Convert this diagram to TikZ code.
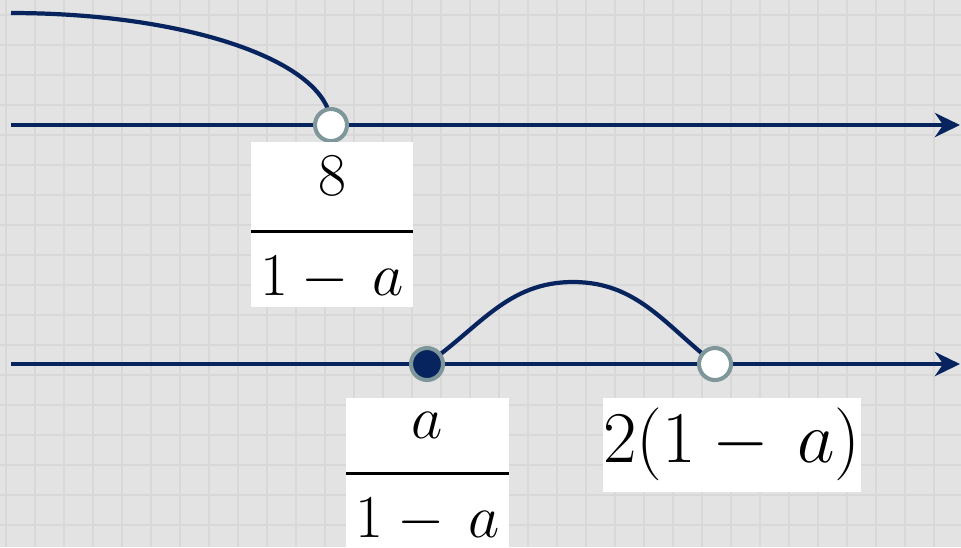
\documentclass[tikz,border=0pt]{standalone}
\usepackage{tikz}
\usetikzlibrary{arrows.meta}

\definecolor{axisblue}{RGB}{8,36,94}
\definecolor{ringgray}{RGB}{127,151,155}
\definecolor{paper}{RGB}{227,227,227}
\definecolor{gridline}{RGB}{216,216,216}

% fraction in a white box: strut height, strut depth, numerator
\newcommand{\fracbox}[3]{%
  {\def\arraystretch{0}\setlength{\arrayrulewidth}{0.03cm}%
   \begin{tabular}{@{}c@{}}
     \makebox[1.62cm]{\rule[-#2]{0pt}{#1}$#3$}\\ \hline
     \makebox[1.62cm]{\rule[-0.11cm]{0pt}{0.74cm}$1-\,a$}
   \end{tabular}}}

\begin{document}
\begin{tikzpicture}[
    x=0.01cm, y=-0.01cm,
    axis/.style={axisblue, line width=1.3pt, -{Stealth[length=0.25cm, width=0.24cm]}},
    curve/.style={axisblue, line width=1.2pt},
    openpt/.style={circle, fill=white, draw=ringgray, line width=1.15pt, minimum size=0.32cm, inner sep=0pt},
    closedpt/.style={openpt, fill=axisblue},
    lbl/.style={fill=white, inner sep=0pt, font=\fontsize{18.5}{22}\selectfont}
]
\clip (0,0) rectangle (961,547);
\fill[paper] (0,0) rectangle (961,547);

% graph paper
\foreach \gx in {6,35,...,961} {
    \draw[gridline, line width=0.4pt] (\gx,0) -- (\gx,547);
}
\foreach \gy in {15,45,...,547} {
    \draw[gridline, line width=0.4pt] (0,\gy) -- (961,\gy);
}

% upper line
\coordinate (l1s) at (11,125);
\coordinate (l1e) at (960,125);
\coordinate (o1) at (331,125);
\coordinate (c1s) at (11,13);
\draw[axis] (l1s) -- (l1e);
\draw[curve] (c1s) .. controls (188,13) and (331,62) .. (o1);
\node[openpt] (p1) at (o1) {};

% lower line
\coordinate (l2s) at (11,364);
\coordinate (l2e) at (960,364);
\coordinate (d2) at (427,364);
\coordinate (o2) at (715,364);
\coordinate (top2) at (573,282);
\draw[axis] (l2s) -- (l2e);
\draw[curve] (d2) to[out=35, in=180] (top2) to[out=0, in=142] (o2);
\node[closedpt] (p2) at (d2) {};
\node[openpt] (p3) at (o2) {};

% labels
\node[lbl, anchor=north] (f1) at (332,141) {\fracbox{0.88cm}{0.34cm}{8}};
\node[lbl, anchor=north] (f2) at (427.5,397) {\fracbox{0.74cm}{0.33cm}{a}};
\node[lbl, anchor=north, minimum width=2.58cm, minimum height=0.94cm,
      font=\fontsize{20.5}{24}\selectfont] (f3) at (732,397) {$2(1-\,a)$};
\end{tikzpicture}
\end{document}
